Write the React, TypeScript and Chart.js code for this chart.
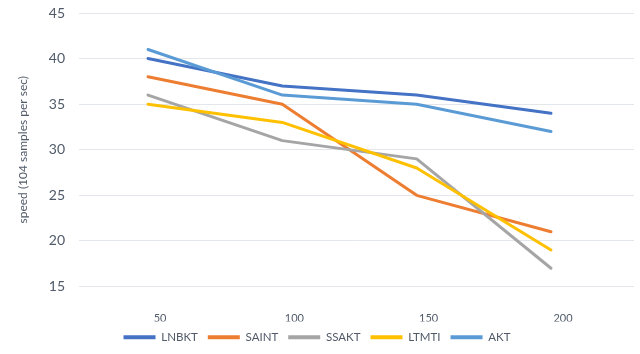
import React, { useEffect, useRef } from "react";
import { Chart, registerables } from "chart.js";

Chart.register(...registerables);

const categories = [50, 100, 150, 200];
const seriesNames = ["LNBKT", "SAINT", "SSAKT", "LTMTI", "AKT"];
const lnbkt = [40, 37, 36, 34];
const saint = [38, 35, 25, 21];
const ssakt = [36, 31, 29, 17];
const ltmti = [35, 33, 28, 19];
const akt = [41, 36, 35, 32];
const yTicks = [15, 20, 25, 30, 35, 40, 45];
const colors = ["#4472C4", "#ED7D31", "#A5A5A5", "#FFC000", "#5B9BD5"];
const yTitle = "speed (104 samples per sec)";

const FONT = "Lato, 'Noto Sans', sans-serif";
const TEXT = "#505a68";

export default function App() {
  const ref = useRef<HTMLCanvasElement | null>(null);
  useEffect(() => {
    document.body.style.margin = "0";
    const values = [lnbkt, saint, ssakt, ltmti, akt];
    const chart = new Chart(ref.current!, {
      type: "line",
      data: {
        datasets: seriesNames.map((name, i) => ({
          label: name,
          data: categories.map((c, j) => ({ x: c, y: values[i][j] })),
          borderColor: colors[i],
          backgroundColor: colors[i],
          borderWidth: 3,
          pointRadius: 0,
          borderCapStyle: "round" as const,
          borderJoinStyle: "round" as const,
          tension: 0,
          order: -i,
        })),
      },
      options: {
        animation: false,
        responsive: false,
        maintainAspectRatio: false,
        layout: { padding: { top: 13, right: 6, left: 0, bottom: 1 } },
        plugins: {
          tooltip: { enabled: false },
          legend: {
            position: "bottom",
            labels: {
              boxWidth: 32,
              boxHeight: 4,
              padding: 10,
              color: TEXT,
              font: { family: FONT, size: 11.5 },
              sort: (a: any, b: any) => a.datasetIndex - b.datasetIndex,
              generateLabels: (c: any) => {
                const items = Chart.defaults.plugins.legend.labels.generateLabels(c);
                return items.map((it: any) => ({ ...it, lineWidth: 0 }));
              },
            },
          },
        },
        scales: {
          x: {
            type: "linear",
            min: 24.3,
            max: 230.9,
            afterBuildTicks: (s: any) => {
              s.ticks = categories.map((v) => ({ value: v }));
            },
            afterFit: (s: any) => {
              s.height = 35;
              s.paddingLeft = 0;
              s.paddingRight = 0;
            },
            grid: { display: false },
            border: { display: false },
            ticks: {
              color: TEXT,
              font: { family: FONT, size: 11 },
              padding: 17,
              labelOffset: 12,
              callback: (v: any) => String(v),
            },
          },
          y: {
            min: 15,
            max: 45,
            afterBuildTicks: (s: any) => {
              s.ticks = yTicks.map((v) => ({ value: v }));
            },
            afterFit: (s: any) => {
              s.width = 79;
              s.paddingTop = 0;
              s.paddingBottom = 0;
            },
            grid: { color: "#e3e6eb", lineWidth: 1, drawTicks: false },
            border: { display: false },
            ticks: {
              color: TEXT,
              font: { family: FONT, size: 14 },
              padding: 14,
            },
            title: {
              display: true,
              text: yTitle,
              color: TEXT,
              font: { family: FONT, size: 12 },
              padding: { top: 16, bottom: 0 },
            },
          },
        },
      },
    });
    return () => chart.destroy();
  }, []);
  return <canvas ref={ref} width={640} height={354} style={{ display: "block" }} />;
}
